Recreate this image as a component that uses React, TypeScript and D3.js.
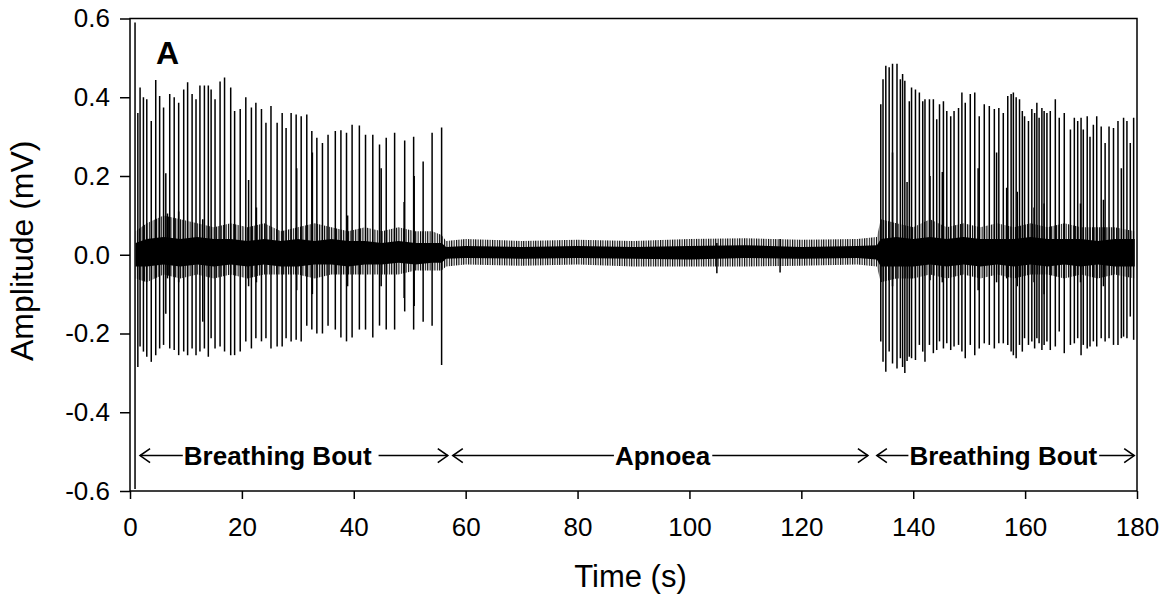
import React, { useEffect, useRef } from 'react'
import * as d3 from 'd3'

// main breathing spikes, first bout (time s, peak mV, trough mV)
const boutOneTime = [1.4, 1.8, 2.4, 3.0, 3.8, 4.6, 5.3, 6.0, 6.4, 7.1, 7.9, 8.7, 9.6, 10.3, 11.1, 11.8, 12.5, 13.3, 14.0, 14.5, 15.2, 16.1, 16.9, 18.0, 18.7, 19.7, 20.7, 21.7, 22.5, 23.5, 24.3, 25.2, 26.3, 27.2, 27.9, 28.8,
  29.7, 30.6, 31.6, 32.5, 33.4, 34.4, 35.4, 36.7, 37.7, 38.7, 39.7, 41.0, 42.1, 43.4, 44.6, 45.8, 47.3, 49.1, 50.7, 52.4, 54.0, 55.7]
const boutOneHigh = [0.36, 0.425, 0.40, 0.395, 0.34, 0.444, 0.403, 0.374, 0.207, 0.408, 0.40, 0.386, 0.42, 0.438, 0.408, 0.395, 0.43, 0.43, 0.43, 0.42, 0.395, 0.44, 0.45, 0.425, 0.365, 0.37, 0.40, 0.374, 0.386, 0.37, 0.335, 0.378, 0.335, 0.36, 0.322, 0.36,
  0.356, 0.352, 0.356, 0.314, 0.297, 0.284, 0.305, 0.314, 0.316, 0.31, 0.33, 0.328, 0.305, 0.305, 0.28, 0.297, 0.31, 0.29, 0.30, 0.237, 0.31, 0.323]
const boutOneLow = [-0.285, -0.233, -0.246, -0.259, -0.272, -0.255, -0.238, -0.229, -0.15, -0.238, -0.242, -0.255, -0.246, -0.255, -0.238, -0.255, -0.246, -0.238, -0.259, -0.212, -0.238, -0.233, -0.246, -0.255, -0.255, -0.246, -0.22, -0.238, -0.212, -0.22, -0.212, -0.238, -0.233, -0.233, -0.212, -0.22,
  -0.216, -0.22, -0.18, -0.19, -0.2, -0.2, -0.18, -0.19, -0.21, -0.22, -0.21, -0.19, -0.19, -0.21, -0.18, -0.19, -0.19, -0.144, -0.19, -0.17, -0.18, -0.28]

// main breathing spikes, second bout
const boutTwoTime = [134.2, 134.6, 135.1, 135.7, 136.3, 137.1, 137.7, 138.1, 138.5, 138.9, 139.3, 139.7, 140.4, 141.1, 141.7, 142.1, 142.9, 143.6, 144.2, 144.7, 145.4, 146.0, 146.7, 147.3, 148.1, 148.7, 149.3, 150.2, 151.0, 151.8, 152.7, 153.6, 154.5, 155.3, 156.1, 156.9,
  157.5, 157.9, 158.4, 159.0, 159.5, 159.9, 160.6, 161.2, 161.7, 162.1, 162.5, 163.0, 163.4, 163.9, 164.5, 165.4, 166.1, 167.0, 168.1, 168.8, 169.4, 170.0, 170.4, 171.1, 171.6, 172.2, 172.8, 173.6, 174.3, 175.0, 175.8, 176.6, 177.2, 177.6, 178.2, 178.8, 179.4]
const boutTwoHigh = [0.382, 0.446, 0.48, 0.476, 0.485, 0.485, 0.446, 0.459, 0.442, 0.185, 0.39, 0.425, 0.42, 0.412, 0.39, 0.395, 0.395, 0.395, 0.344, 0.382, 0.39, 0.365, 0.352, 0.365, 0.373, 0.412, 0.386, 0.408, 0.412, 0.352, 0.382, 0.378, 0.37, 0.373, 0.36, 0.403,
  0.408, 0.412, 0.40, 0.395, 0.365, 0.352, 0.34, 0.37, 0.36, 0.386, 0.348, 0.373, 0.365, 0.36, 0.365, 0.395, 0.348, 0.36, 0.318, 0.348, 0.34, 0.348, 0.318, 0.352, 0.30, 0.33, 0.352, 0.326, 0.284, 0.326, 0.322, 0.34, 0.22, 0.348, 0.34, 0.284, 0.348]
const boutTwoLow = [-0.22, -0.272, -0.297, -0.246, -0.276, -0.289, -0.263, -0.285, -0.30, -0.27, -0.259, -0.263, -0.267, -0.229, -0.246, -0.272, -0.229, -0.25, -0.242, -0.22, -0.238, -0.225, -0.242, -0.233, -0.229, -0.246, -0.263, -0.229, -0.255, -0.238, -0.225, -0.229, -0.238, -0.225, -0.225, -0.229,
  -0.246, -0.255, -0.263, -0.229, -0.246, -0.212, -0.229, -0.22, -0.238, -0.212, -0.225, -0.242, -0.229, -0.22, -0.242, -0.233, -0.195, -0.25, -0.229, -0.225, -0.212, -0.255, -0.229, -0.238, -0.233, -0.22, -0.233, -0.212, -0.22, -0.212, -0.229, -0.229, -0.212, -0.208, -0.212, -0.157, -0.216]

// smaller deflections inside the bouts and apnoea
const minorTime = [6.7, 8.7, 13.0, 21.2, 22.6, 29.8, 32.6, 38.9, 44.9, 49.0, 50.8, 104.9, 116.2, 136.3, 143.0, 145.2, 151.6, 154.9, 156.7, 158.6, 161.6, 163.4, 169.9, 174.0]
const minorHigh = [0.105, 0.11, 0.09, 0.19, 0.12, 0.22, 0.26, 0.1, 0.22, 0.134, 0.2, 0.03, 0.04, 0.26, 0.2, 0.21, 0.22, 0.26, 0.17, 0.16, 0.12, 0.13, 0.13, 0.14]
const minorLow = [-0.06, -0.07, -0.17, -0.08, -0.07, -0.09, -0.1, -0.08, -0.08, -0.11, -0.13, -0.047, -0.045, -0.08, -0.065, -0.07, -0.09, -0.07, -0.06, -0.08, -0.07, -0.1, -0.07, -0.08]

// artefact at the start of the recording
const artefactTime = [0.9]
const artefactHigh = [0.59]
const artefactLow = [-0.595]

// baseline noise envelope
const noiseTime = [1.0, 3, 6, 9, 12, 15, 18, 21, 24, 27, 30, 33, 36, 39, 42, 45, 48, 51, 54, 55.7, 56.5, 60, 70, 80, 90, 100, 110, 120, 130, 133.5, 134.2, 137, 140, 143, 146, 149, 152, 155, 158, 161, 164, 167, 170, 173, 176, 179.6]
const noiseInnerHigh = [0.03, 0.04, 0.045, 0.04, 0.045, 0.04, 0.04, 0.035, 0.04, 0.035, 0.04, 0.035, 0.04, 0.035, 0.035, 0.03, 0.035, 0.03, 0.03, 0.03, 0.02, 0.022, 0.02, 0.022, 0.02, 0.022, 0.024, 0.02, 0.022, 0.024, 0.04, 0.045, 0.04, 0.045, 0.04, 0.045, 0.04, 0.04, 0.04, 0.045, 0.04, 0.04, 0.04, 0.035, 0.04, 0.04]
const noiseInnerLow = [-0.03, -0.03, -0.025, -0.03, -0.025, -0.03, -0.025, -0.03, -0.025, -0.03, -0.03, -0.025, -0.025, -0.03, -0.025, -0.025, -0.02, -0.025, -0.02, -0.02, -0.01, -0.008, -0.01, -0.008, -0.01, -0.012, -0.008, -0.01, -0.008, -0.012, -0.03, -0.03, -0.03, -0.025, -0.03, -0.025, -0.03, -0.025, -0.03, -0.025, -0.03, -0.025, -0.03, -0.025, -0.03, -0.03]
const noiseOuterHigh = [0.06, 0.08, 0.1, 0.09, 0.08, 0.07, 0.08, 0.07, 0.08, 0.06, 0.07, 0.08, 0.07, 0.06, 0.07, 0.06, 0.07, 0.06, 0.06, 0.05, 0.035, 0.04, 0.035, 0.038, 0.035, 0.04, 0.042, 0.038, 0.04, 0.045, 0.09, 0.08, 0.07, 0.09, 0.07, 0.08, 0.07, 0.08, 0.07, 0.08, 0.07, 0.08, 0.07, 0.07, 0.07, 0.06]
const noiseOuterLow = [-0.06, -0.07, -0.05, -0.06, -0.05, -0.06, -0.05, -0.06, -0.05, -0.05, -0.05, -0.06, -0.05, -0.05, -0.05, -0.05, -0.05, -0.04, -0.04, -0.04, -0.03, -0.025, -0.028, -0.025, -0.03, -0.03, -0.03, -0.028, -0.025, -0.03, -0.07, -0.06, -0.06, -0.05, -0.06, -0.05, -0.06, -0.05, -0.06, -0.05, -0.05, -0.06, -0.05, -0.06, -0.05, -0.06]

// phase annotations
const phaseLabels = ['Breathing Bout', 'Apnoea', 'Breathing Bout']
const phaseStart = [1.8, 57.7, 133.5]
const phaseEnd = [56.8, 131.9, 179.5]
const phaseCenter = [26.4, 95.2, 156.1]
const phaseLevel = -0.51

const xTicks = [0, 20, 40, 60, 80, 100, 120, 140, 160, 180]
const yTicks = [-0.6, -0.4, -0.2, 0.0, 0.2, 0.4, 0.6]

const W = 1169
const H = 601
const margin = { top: 18.5, right: 32, bottom: 110, left: 130 }
const FONT = '"Liberation Sans", Arial, Helvetica, sans-serif'

export default function App() {
    const svgRef = useRef<SVGSVGElement>(null)

    useEffect(() => {
        const svg = d3.select(svgRef.current)
        svg.selectAll('*').remove()

        const x = d3.scaleLinear().domain([0, 180]).range([margin.left, W - margin.right])
        const y = d3.scaleLinear().domain([-0.6, 0.6]).range([H - margin.bottom, margin.top])

        const defs = svg.append('defs')
        defs.append('clipPath').attr('id', 'plot-area')
            .append('rect')
            .attr('x', margin.left).attr('y', margin.top)
            .attr('width', W - margin.left - margin.right)
            .attr('height', H - margin.top - margin.bottom)
        const pat = defs.append('pattern').attr('id', 'ticks')
            .attr('patternUnits', 'userSpaceOnUse')
            .attr('width', 2.4).attr('height', 6)
        pat.append('rect').attr('width', 1.1).attr('height', 6).attr('fill', '#000')

        const noise = noiseTime.map((t, i) => ({
            t, ih: noiseInnerHigh[i], il: noiseInnerLow[i], oh: noiseOuterHigh[i], ol: noiseOuterLow[i]
        }))

        const plot = svg.append('g').attr('clip-path', 'url(#plot-area)')

        // outer noise band (fine vertical texture) and solid core
        plot.append('path')
            .datum(noise)
            .attr('fill', 'url(#ticks)')
            .attr('d', d3.area<any>().x(d => x(d.t)).y0(d => y(d.ol)).y1(d => y(d.oh)))
        plot.append('path')
            .datum(noise)
            .attr('fill', '#000')
            .attr('d', d3.area<any>().x(d => x(d.t)).y0(d => y(d.il)).y1(d => y(d.ih)))

        const spikes = (ts: number[], hs: number[], ls: number[]) => ts.map((t, i) => ({ t, hi: hs[i], lo: ls[i] }))
        const allSpikes = [
            ...spikes(minorTime, minorHigh, minorLow),
            ...spikes(boutOneTime, boutOneHigh, boutOneLow),
            ...spikes(boutTwoTime, boutTwoHigh, boutTwoLow),
            ...spikes(artefactTime, artefactHigh, artefactLow),
        ]

        plot.append('g')
            .attr('stroke', '#000')
            .attr('stroke-width', 1.5)
            .selectAll('line')
            .data(allSpikes)
            .join('line')
                .attr('x1', d => x(d.t)).attr('x2', d => x(d.t))
                .attr('y1', d => y(d.hi)).attr('y2', d => y(d.lo))

        // frame
        svg.append('rect')
            .attr('x', margin.left).attr('y', margin.top)
            .attr('width', W - margin.left - margin.right)
            .attr('height', H - margin.top - margin.bottom)
            .attr('fill', 'none').attr('stroke', '#000').attr('stroke-width', 1.5)

        // axes
        svg.append('g')
            .attr('transform', `translate(0,${H - margin.bottom})`)
            .call(d3.axisBottom(x).tickValues(xTicks).tickSize(8).tickSizeOuter(0).tickPadding(19).tickFormat(d => String(d)))
            .call(g => g.select('.domain').remove())
            .call(g => g.selectAll('line').attr('stroke', '#000').attr('stroke-width', 1.5))
            .call(g => g.selectAll('text').attr('font-size', 26).attr('font-family', FONT).attr('fill', '#000'))

        svg.append('g')
            .attr('transform', `translate(${margin.left},0)`)
            .call(d3.axisLeft(y).tickValues(yTicks).tickSize(10).tickSizeOuter(0).tickPadding(10).tickFormat(d => (+d).toFixed(1)))
            .call(g => g.select('.domain').remove())
            .call(g => g.selectAll('line').attr('stroke', '#000').attr('stroke-width', 1.5))
            .call(g => g.selectAll('text').attr('font-size', 26).attr('font-family', FONT).attr('fill', '#000'))

        // axis titles
        svg.append('text')
            .attr('x', (margin.left + W - margin.right) / 2 - 3)
            .attr('y', 587)
            .attr('text-anchor', 'middle')
            .attr('font-family', FONT).attr('font-size', 31)
            .text('Time (s)')
        svg.append('text')
            .attr('transform', `translate(33,${(margin.top + H - margin.bottom) / 2 - 4}) rotate(-90)`)
            .attr('text-anchor', 'middle')
            .attr('font-family', FONT).attr('font-size', 32)
            .text('Amplitude (mV)')

        // panel letter
        svg.append('text')
            .attr('x', margin.left + 26).attr('y', margin.top + 45)
            .attr('font-family', FONT).attr('font-size', 32).attr('font-weight', 'bold')
            .text('A')

        // phase arrows
        const ay = y(phaseLevel)
        const rightGap = [7, 2, 2]
        const ann = svg.append('g').attr('stroke', '#000').attr('stroke-width', 1.6).attr('fill', 'none')
        phaseLabels.forEach((label, i) => {
            const txt = svg.append('text')
                .attr('x', x(phaseCenter[i])).attr('y', ay).attr('dy', '0.36em')
                .attr('text-anchor', 'middle')
                .attr('font-family', FONT).attr('font-size', 26).attr('font-weight', 'bold')
                .text(label)
            const w = (txt.node() as SVGTextElement).getComputedTextLength()
            const x0 = x(phaseStart[i])
            const x1 = x(phaseEnd[i])
            const tl = x(phaseCenter[i]) - w / 2 - 1
            const tr = x(phaseCenter[i]) + w / 2 + rightGap[i]
            ann.append('line').attr('x1', x0).attr('x2', tl).attr('y1', ay).attr('y2', ay)
            ann.append('line').attr('x1', tr).attr('x2', x1).attr('y1', ay).attr('y2', ay)
            ann.append('path').attr('d', `M${x0 + 10},${ay - 7}L${x0},${ay}L${x0 + 10},${ay + 7}`)
            ann.append('path').attr('d', `M${x1 - 10},${ay - 7}L${x1},${ay}L${x1 - 10},${ay + 7}`)
        })
    }, [])

    return (
        <svg ref={svgRef} width={W} height={H}
            style={{ position: 'absolute', left: 0, top: 0, background: '#fff' }} />
    )
}
